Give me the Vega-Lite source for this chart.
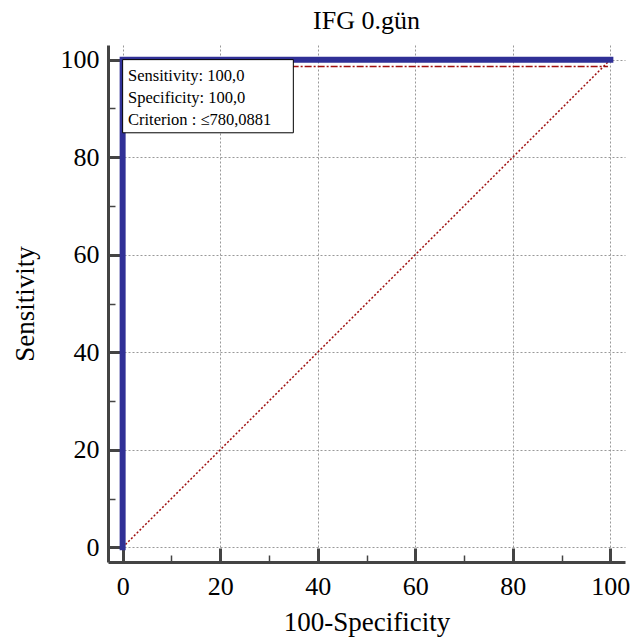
{
  "$schema": "https://vega.github.io/schema/vega-lite/v6.json",
  "width": 517,
  "height": 517,
  "autosize": "none",
  "padding": {"left": 108, "top": 45, "right": 10, "bottom": 82},
  "background": "white",
  "config": {"view": {"stroke": null}, "font": "Liberation Serif"},
  "title": {"text": "IFG 0.gün", "fontSize": 26, "font": "Liberation Serif", "fontWeight": "normal", "color": "black", "anchor": "middle", "frame": "group", "baseline": "alphabetic", "offset": 18, "dy": 28},
  "datasets": {
    "diag": [{"x": 0, "y": 0}, {"x": 100, "y": 100}],
    "ci": [{"x": 0, "y": 98.6}, {"x": 99.5, "y": 98.6}],
    "roc": [{"x": 0, "y": 0, "o": 1}, {"x": 0, "y": 100, "o": 2}, {"x": 100, "y": 100, "o": 3}],
    "box": [{"label": "Sensitivity: 100,0\nSpecificity: 100,0\nCriterion : ≤780,0881"}]
  },
  "layer": [
    {"data": {"name": "diag"}, "mark": {"type": "line", "color": "#a01010", "strokeWidth": 1.5, "strokeDash": [2, 2]},
      "encoding": {
        "x": {"field": "x", "type": "quantitative",
          "scale": {"domain": [-3, 103], "nice": false, "zero": false},
          "axis": {
            "title": "100-Specificity",
            "values": [0,5,10,15,20,25,30,35,40,45,50,55,60,65,70,75,80,85,90,95,100],
            "labelExpr": "datum.value % 20 === 0 ? datum.label : ''",
            "labelOverlap": false, "labelFlush": false,
            "tickSize": {"condition": {"test": "datum.value % 20 === 0", "value": -14}, "value": -7},
            "tickWidth": {"condition": {"test": "datum.value % 20 === 0", "value": 3}, "value": 1.5},
            "tickColor": "#444444", "domainColor": "#444444", "domainWidth": 3,
            "grid": true, "gridDash": [2, 2], "gridColor": "#999999",
            "gridOpacity": {"condition": {"test": "datum.value % 20 === 0", "value": 1}, "value": 0},
            "labelFontSize": 26, "labelFont": "Liberation Serif", "labelColor": "black", "labelPadding": 25,
            "titleFontSize": 27, "titleFont": "Liberation Serif", "titleFontWeight": "normal", "titleColor": "black", "titlePadding": 3
          }},
        "y": {"field": "y", "type": "quantitative",
          "scale": {"domain": [-3, 103], "nice": false, "zero": false},
          "axis": {
            "title": "Sensitivity",
            "values": [0,5,10,15,20,25,30,35,40,45,50,55,60,65,70,75,80,85,90,95,100],
            "labelExpr": "datum.value % 20 === 0 ? datum.label : ''",
            "labelOverlap": false, "labelFlush": false,
            "tickSize": {"condition": {"test": "datum.value % 20 === 0", "value": -14}, "value": -7},
            "tickWidth": {"condition": {"test": "datum.value % 20 === 0", "value": 3}, "value": 1.5},
            "tickColor": "#444444", "domainColor": "#444444", "domainWidth": 3,
            "grid": true, "gridDash": [2, 2], "gridColor": "#999999",
            "gridOpacity": {"condition": {"test": "datum.value % 20 === 0", "value": 1}, "value": 0},
            "labelFontSize": 26, "labelFont": "Liberation Serif", "labelColor": "black", "labelPadding": 23,
            "titleFontSize": 27, "titleFont": "Liberation Serif", "titleFontWeight": "normal", "titleColor": "black", "titlePadding": 21
          }}
      }},
    {"data": {"name": "ci"}, "mark": {"type": "line", "color": "#a01010", "strokeWidth": 1.5, "strokeDash": [7, 2, 2, 2]},
      "encoding": {"x": {"field": "x", "type": "quantitative"}, "y": {"field": "y", "type": "quantitative"}}},
    {"data": {"name": "roc"}, "mark": {"type": "line", "color": "#303096", "strokeWidth": 6, "strokeCap": "square"},
      "encoding": {"x": {"field": "x", "type": "quantitative"}, "y": {"field": "y", "type": "quantitative"}, "order": {"field": "o", "type": "quantitative"}}},
    {"data": {"name": "box"}, "mark": {"type": "rect", "fill": "white", "stroke": "black", "strokeWidth": 1},
      "encoding": {"x": {"datum": 0, "type": "quantitative"}, "x2": {"datum": 35}, "y": {"datum": 100, "type": "quantitative"}, "y2": {"datum": 85}}},
    {"data": {"name": "box"}, "mark": {"type": "text", "align": "left", "baseline": "middle", "fontSize": 16.5, "font": "Liberation Serif", "color": "black", "lineBreak": "\n", "lineHeight": 22},
      "encoding": {"x": {"datum": 1.1, "type": "quantitative"}, "y": {"datum": 96.7, "type": "quantitative"}, "text": {"field": "label", "type": "nominal"}}}
  ]
}
